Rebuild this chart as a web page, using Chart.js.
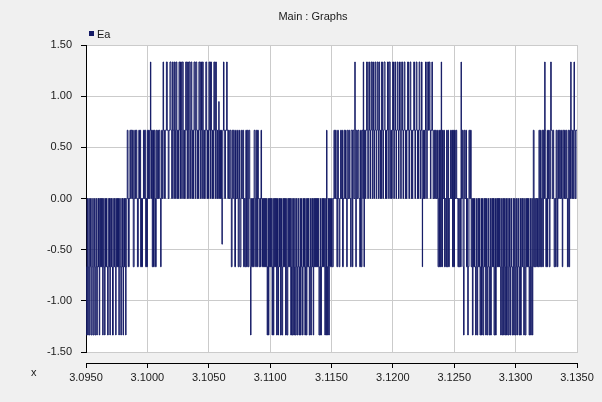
<!DOCTYPE html>
<html>
<head>
<meta charset="utf-8">
<script src="https://cdn.jsdelivr.net/npm/chart.js@4.4.1/dist/chart.umd.min.js"></script>
<style>
  html, body { margin: 0; padding: 0; background: #f0f0f0; }
  #wrap { width: 602px; height: 402px; }
</style>
</head>
<body>
<div id="wrap"><canvas id="graph" width="602" height="402"></canvas></div>
<script>
const titleText = 'Main : Graphs';
const seriesName = 'Ea';
const xAxisName = 'x';

const xMin = 3.095, xMax = 3.135, xStep = 0.005;
const yMin = -1.5, yMax = 1.5, yStep = 0.5;

// switching levels are multiples of 0.667 (0, ±0.67, ±1.33)
const levelUnit = 0.667;

// [time in ms after 3.0950 s, level (in units of 0.667)]
const seg1 = [[0,-2],[0.05,-1],[0.09,0],[0.13,-2],[0.19,-1],[0.23,0],[0.27,-2],[0.33,-1],[0.37,0],[0.43,-2],[0.50,-1],[0.55,0],[0.59,-2],[0.66,-1],[0.70,0],[0.74,-2],[0.80,-1],[0.84,0],[0.88,-2],[0.92,-1],[0.98,0],[1.02,-1],[1.05,0],[1.08,-2],[1.12,-1],[1.16,0],[1.20,-1],[1.24,0],[1.28,-1],[1.32,0],[1.36,-2],[1.40,-1],[1.44,0],[1.48,-1],[1.52,-2],[1.55,-1],[1.59,0],[1.63,-1],[1.67,0],[1.71,-1],[1.76,-2],[1.81,-1],[1.85,0],[1.89,-1],[1.92,0],[1.95,-2],[1.98,-1],[2.02,0],[2.06,-1],[2.10,0],[2.13,-1],[2.16,-2],[2.22,-1],[2.26,0],[2.30,-1],[2.34,0],[2.38,-1],[2.42,-2],[2.45,-1],[2.49,0],[2.53,-1],[2.57,0],[2.61,-1],[2.65,0],[2.68,-2],[2.71,-1],[2.75,0],[2.79,-1],[2.84,-2],[2.88,-1],[2.92,0],[2.96,-1],[2.99,0],[3.02,-2],[3.06,-1],[3.10,0],[3.14,-1],[3.18,0],[3.23,-2],[3.26,-1],[3.32,0]];
const seg2 = [[3.36,1],[3.42,0],[3.46,-1],[3.52,0],[3.58,1],[3.64,0],[3.68,1],[3.76,0],[3.80,1],[3.85,-1],[3.92,0],[3.97,1],[4.04,0],[4.08,1],[4.14,0],[4.19,-1],[4.26,0],[4.30,1],[4.36,0],[4.40,1],[4.45,-1],[4.52,0],[4.56,-1],[4.60,0],[4.68,1],[4.74,0],[4.78,1],[4.86,-1],[4.92,0],[4.96,-1],[5.00,1],[5.06,0],[5.10,1],[5.16,0],[5.22,1],[5.25,2],[5.28,1],[5.32,0],[5.35,1],[5.40,-1],[5.45,1],[5.50,-1],[5.56,1],[5.62,0],[5.66,-1],[5.72,1],[5.78,0],[5.84,1],[5.90,0],[5.95,1],[6.02,0],[6.08,-1],[6.12,0],[6.16,1]];
const seg3 = [[6.22,0],[6.28,2],[6.32,1],[6.40,0],[6.46,1],[6.55,2],[6.62,1],[6.70,0],[6.76,1],[6.84,2],[6.92,1],[6.98,0],[7.04,2],[7.10,1],[7.16,0],[7.20,2],[7.26,1],[7.30,0],[7.34,2],[7.40,1],[7.44,0],[7.48,1],[7.52,0],[7.55,1],[7.58,2],[7.64,1],[7.67,0],[7.70,2],[7.77,1],[7.80,0],[7.84,2],[7.92,1],[7.96,0],[8.00,1],[8.04,0],[8.08,1],[8.12,2],[8.20,1],[8.24,0],[8.28,2],[8.34,1],[8.37,0],[8.40,2],[8.48,1],[8.52,0],[8.56,2],[8.62,1],[8.66,0],[8.70,1],[8.74,0],[8.77,1],[8.80,2],[8.87,1],[8.90,0],[8.94,2],[9.02,1],[9.06,0],[9.10,1],[9.14,0],[9.17,1],[9.20,2],[9.27,1],[9.30,0],[9.34,2],[9.41,1],[9.44,0],[9.48,2],[9.55,1],[9.59,0],[9.63,1],[9.67,0],[9.71,1],[9.76,2],[9.83,1],[9.86,0],[9.90,1],[9.94,0],[9.98,1],[10.02,2],[10.08,1],[10.11,0],[10.14,2],[10.22,1],[10.26,0],[10.30,1],[10.34,0],[10.38,1],[10.42,2],[10.48,1],[10.52,0],[10.56,2],[10.62,1],[10.66,0],[10.70,1],[10.74,0],[10.78,1],[10.82,1.42],[10.84,1],[10.88,0],[10.92,1],[10.96,0],[11.00,1],[11.04,0],[11.08,-0.67],[11.10,0],[11.14,1],[11.20,2],[11.24,1],[11.30,0],[11.36,1],[11.46,2],[11.50,1]];
const seg4 = [[11.56,0],[11.60,1],[11.66,0],[11.72,1],[11.80,0],[11.84,-1],[11.90,1],[11.96,0],[12.00,1],[12.08,0],[12.12,-1],[12.18,1],[12.24,0],[12.34,1],[12.40,-1],[12.46,0],[12.50,1],[12.54,-1],[12.62,0],[12.66,1],[12.72,0],[12.78,1],[12.84,-1],[12.90,0],[12.96,-1],[13.02,1],[13.08,-1],[13.14,1],[13.20,-1],[13.26,1],[13.34,0],[13.38,-1],[13.41,-2],[13.44,-1],[13.48,0],[13.56,-1],[13.62,0],[13.66,-1],[13.70,1],[13.78,0],[13.82,-1],[13.88,1],[13.94,-1],[13.98,1],[14.04,0],[14.10,-1],[14.16,0],[14.22,-1],[14.26,1],[14.30,0],[14.38,-1]];
const seg5 = [[14.44,0],[14.48,-1],[14.52,0],[14.56,-1],[14.60,0],[14.64,-1],[14.68,0],[14.72,-1],[14.76,-2],[14.80,-1],[14.83,0],[14.86,-2],[14.90,-1],[14.93,0],[14.97,-1],[15.01,0],[15.05,-1],[15.09,0],[15.13,-1],[15.16,-2],[15.20,-1],[15.23,0],[15.26,-2],[15.30,-1],[15.34,0],[15.38,-1],[15.42,0],[15.46,-1],[15.50,0],[15.53,-2],[15.57,-1],[15.60,0],[15.63,-2],[15.68,-1],[15.72,0],[15.76,-1],[15.80,0],[15.84,-2],[15.90,-1],[15.93,0],[15.96,-2],[16.02,-1],[16.06,0],[16.10,-1],[16.14,0],[16.18,-1],[16.22,0],[16.26,-2],[16.32,-1],[16.35,0],[16.38,-2],[16.44,-1],[16.48,0],[16.52,-1],[16.56,0],[16.60,-1],[16.64,0],[16.68,-2],[16.74,-1],[16.77,0],[16.80,-2],[16.86,-1],[16.89,0],[16.92,-2],[16.98,-1],[17.01,0],[17.04,-2],[17.10,-1],[17.14,0],[17.18,-2],[17.24,-1],[17.28,0],[17.32,-1],[17.35,-2],[17.40,-1],[17.44,0],[17.47,-2],[17.52,-1],[17.56,0],[17.60,-1],[17.63,-2],[17.68,-1],[17.72,0],[17.76,-1],[17.80,0],[17.83,-2],[17.88,-1],[17.92,0],[17.95,-2],[18.00,-1],[18.04,0],[18.08,-1],[18.12,0],[18.16,-1],[18.19,-2],[18.24,-1],[18.28,0],[18.31,-2],[18.36,-1],[18.40,0],[18.44,-1],[18.48,0],[18.51,-2],[18.55,-1],[18.59,0],[18.63,-1],[18.67,0],[18.71,-1],[18.75,0],[18.79,-1],[18.83,0],[18.87,-1],[18.91,0],[18.95,-1],[18.98,-2],[19.04,-1],[19.08,0],[19.11,-2],[19.18,-1],[19.22,0],[19.26,-1],[19.30,0],[19.34,-1],[19.38,0],[19.42,-1],[19.46,-2],[19.50,-1],[19.53,0],[19.56,-2],[19.60,1],[19.63,-1],[19.68,-2],[19.72,-1],[19.75,0],[19.78,-2],[19.82,-1],[19.84,0]];
const seg6 = [[19.92,-1],[20.00,0],[20.06,-1],[20.14,0],[20.20,1],[20.26,0],[20.32,1],[20.38,0],[20.44,-1],[20.50,1],[20.56,0],[20.62,-1],[20.68,0],[20.74,1],[20.80,0],[20.86,1],[20.90,-1],[20.96,0],[21.02,1],[21.08,0],[21.14,1],[21.18,0],[21.24,-1],[21.28,1],[21.36,0],[21.42,1],[21.48,0],[21.56,-1],[21.60,1],[21.70,-1],[21.74,1],[21.82,0],[21.90,2],[21.93,1],[21.98,-1],[22.02,1],[22.10,0],[22.16,1],[22.24,0],[22.30,-1],[22.36,1],[22.42,-1],[22.48,1],[22.56,0],[22.59,2],[22.62,1],[22.65,-1],[22.68,1],[22.76,0],[22.80,1]];
const seg7 = [[22.86,2],[22.92,1],[22.96,0],[23.00,1],[23.04,2],[23.10,1],[23.14,0],[23.18,1],[23.22,2],[23.28,1],[23.32,0],[23.36,2],[23.42,1],[23.46,0],[23.50,1],[23.54,2],[23.60,1],[23.64,0],[23.68,1],[23.72,2],[23.78,1],[23.82,0],[23.86,2],[23.92,1],[23.96,0],[24.00,1],[24.04,0],[24.08,2],[24.15,1],[24.19,0],[24.23,1],[24.28,2],[24.36,1],[24.40,0],[24.44,1],[24.48,0],[24.52,1],[24.56,2],[24.63,1],[24.66,0],[24.70,2],[24.78,1],[24.82,0],[24.86,1],[24.90,0],[24.94,1],[24.98,2],[25.05,1],[25.08,0],[25.12,1],[25.16,2],[25.22,1],[25.26,0],[25.30,1],[25.36,2],[25.42,1],[25.46,0],[25.50,1],[25.54,2],[25.60,1],[25.64,0],[25.68,1],[25.72,2],[25.79,1],[25.83,0],[25.87,1],[25.92,2],[25.98,1],[26.02,0],[26.06,1],[26.10,0],[26.14,1],[26.20,2],[26.27,1],[26.31,0],[26.35,1],[26.40,2],[26.46,1],[26.50,0],[26.54,1],[26.58,0],[26.62,1],[26.70,2],[26.76,1],[26.80,0],[26.84,1],[26.90,2],[26.96,1],[27.00,0],[27.04,1],[27.08,0],[27.11,1],[27.14,2],[27.20,1],[27.24,0],[27.28,1],[27.34,2],[27.37,1],[27.39,0],[27.40,-1],[27.42,0],[27.48,1],[27.52,0],[27.56,1],[27.60,0],[27.63,1],[27.66,2],[27.72,1],[27.76,0],[27.80,1],[27.84,2],[27.90,1],[27.96,2],[28.02,1],[28.06,0],[28.10,1],[28.18,2],[28.22,1],[28.28,0]];
const seg8 = [[28.34,1],[28.40,0],[28.46,1],[28.52,0],[28.58,1],[28.64,0],[28.68,-1],[28.74,1],[28.80,-1],[28.86,1],[28.90,-1],[28.94,2],[28.97,1],[29.00,-1],[29.04,1],[29.10,0],[29.16,1],[29.20,-1],[29.26,0],[29.32,-1],[29.38,1],[29.42,-1],[29.48,1],[29.54,-1],[29.60,0],[29.70,1],[29.76,0],[29.82,1],[29.86,-1],[29.92,1],[29.96,-1],[30.02,1],[30.08,0],[30.14,1],[30.20,0],[30.30,-1],[30.36,0],[30.40,-1],[30.46,0],[30.52,-1],[30.56,2],[30.58,0],[30.66,1],[30.72,-1],[30.76,-2],[30.80,1],[30.86,0],[30.94,1],[31.00,-1],[31.06,0],[31.10,-2],[31.14,-1],[31.20,1],[31.26,0],[31.32,1],[31.38,-1]];
const seg9 = [[31.44,0],[31.48,-2],[31.53,-1],[31.57,0],[31.61,-1],[31.65,0],[31.69,-1],[31.74,-2],[31.79,-1],[31.82,0],[31.86,-2],[31.91,-1],[31.95,0],[31.99,-1],[32.03,0],[32.06,-1],[32.10,-2],[32.15,-1],[32.18,0],[32.22,-2],[32.27,-1],[32.30,0],[32.34,-2],[32.40,-1],[32.44,0],[32.48,-1],[32.52,0],[32.56,-2],[32.60,-1],[32.63,0],[32.66,-2],[32.72,-1],[32.76,0],[32.80,-1],[32.84,-2],[32.89,-1],[32.92,0],[32.96,-2],[33.02,-1],[33.06,0],[33.10,-1],[33.14,0],[33.18,-1],[33.21,0],[33.24,-2],[33.30,-1],[33.33,0],[33.36,-2],[33.42,-1],[33.46,0],[33.50,-1],[33.54,0],[33.58,-1],[33.62,0],[33.66,-1],[33.70,0],[33.74,-1],[33.78,-2],[33.83,-1],[33.86,0],[33.90,-2],[33.95,-1],[33.98,0],[34.02,-2],[34.07,-1],[34.10,0],[34.14,-2],[34.19,-1],[34.22,0],[34.26,-2],[34.32,-1],[34.36,0],[34.40,-2],[34.46,-1],[34.50,0],[34.54,-2],[34.59,-1],[34.63,0],[34.67,-1],[34.72,-2],[34.77,-1],[34.80,0],[34.84,-2],[34.89,-1],[34.92,0],[34.96,-2],[35.02,-1],[35.06,0],[35.10,-2],[35.15,-1],[35.19,0],[35.23,-1],[35.28,-2],[35.33,-1],[35.36,0],[35.40,-2],[35.46,-1],[35.50,0],[35.54,-1],[35.58,0],[35.62,-1],[35.66,-2],[35.71,-1],[35.74,0],[35.78,-2],[35.84,-1],[35.88,0],[35.92,-1],[35.96,0],[36.00,-1],[36.04,0],[36.07,-1],[36.10,-2],[36.15,-1],[36.18,0],[36.22,-2],[36.28,-1],[36.32,0],[36.36,-2],[36.40,-1]];
const seg10 = [[36.44,1],[36.50,-1],[36.56,0],[36.60,-1],[36.66,0],[36.72,-1],[36.78,0],[36.84,-1],[36.90,1],[36.96,-1],[37.02,1],[37.06,0],[37.10,-1],[37.16,1],[37.22,-1],[37.26,1],[37.34,0],[37.37,2],[37.40,1],[37.46,-1],[37.52,0],[37.56,-1],[37.60,1],[37.66,0],[37.70,1],[37.74,-1],[37.80,0],[37.83,1],[37.86,2],[37.90,1],[37.98,0],[38.04,1],[38.10,0],[38.14,-1],[38.20,0],[38.26,-1],[38.30,1],[38.36,0],[38.40,-1],[38.44,1],[38.50,0],[38.56,1],[38.62,0],[38.68,1],[38.74,0],[38.80,-1],[38.84,1],[38.92,0],[38.98,1],[39.04,0],[39.10,1],[39.16,0],[39.22,-1],[39.28,1],[39.34,-1],[39.40,1],[39.46,0],[39.49,2],[39.52,1],[39.58,0],[39.64,1],[39.70,0],[39.76,2],[39.79,1],[39.86,0],[39.92,1],[40.00,1]];

const segments = [seg1, seg2, seg3, seg4, seg5, seg6, seg7, seg8, seg9, seg10];

const lineColor = '#151b66';
const gridColor = '#cbcbcb';
const textColor = '#1a1a1a';
const labelFont = { family: '"Liberation Sans", Arial, sans-serif', size: 11 };

const points = segments.flat().map(([ms, lvl]) => ({ x: xMin + ms / 1000, y: lvl * levelUnit }));

const frame = {
    id: 'frame',
    beforeDraw(chart) {
        const { ctx, chartArea: a } = chart;
        ctx.save();
        ctx.fillStyle = '#f0f0f0';
        ctx.fillRect(0, 0, chart.width, chart.height);
        ctx.fillStyle = '#ffffff';
        ctx.fillRect(a.left, a.top, a.right - a.left, a.bottom - a.top);
        ctx.restore();
    },
    afterDraw(chart) {
        const { ctx, chartArea: a } = chart;
        ctx.save();
        ctx.font = '11px "Liberation Sans", Arial, sans-serif';
        ctx.fillStyle = textColor;
        ctx.textBaseline = 'middle';
        ctx.textAlign = 'center';
        ctx.fillText(titleText, 313, 17);
        ctx.textAlign = 'left';
        ctx.fillText(seriesName, a.left + 11, 35);
        ctx.fillText(xAxisName, 31, 373);
        ctx.fillStyle = lineColor;
        ctx.fillRect(a.left + 3, 31, 5, 5);
        ctx.restore();
    }
};

new Chart(document.getElementById('graph'), {
    type: 'line',
    data: {
        datasets: [{
            label: seriesName,
            data: points,
            borderColor: lineColor,
            borderWidth: 1,
            pointRadius: 0,
            stepped: true,
            fill: false
        }]
    },
    options: {
        responsive: false,
        animation: false,
        devicePixelRatio: 1,
        parsing: false,
        layout: { padding: { top: 45, right: 25, bottom: 0, left: 0 } },
        plugins: { legend: { display: false }, title: { display: false }, tooltip: { enabled: false } },
        scales: {
            x: {
                type: 'linear', position: 'bottom', weight: 0, min: xMin, max: xMax,
                ticks: { display: false, stepSize: xStep },
                grid: { color: gridColor, drawTicks: false },
                border: { color: gridColor },
                afterFit: s => { s.height = 11; }
            },
            x2: {
                type: 'linear', position: 'bottom', weight: 1, min: xMin, max: xMax,
                ticks: { stepSize: xStep, autoSkip: false, maxRotation: 0, padding: 3, color: textColor, font: labelFont, callback: v => v.toFixed(4) },
                grid: { drawOnChartArea: false, tickLength: 5, tickColor: '#000' },
                border: { color: '#000' },
                afterFit: s => { s.height = 39; }
            },
            y: {
                min: yMin, max: yMax,
                ticks: { stepSize: yStep, padding: 9, color: textColor, font: labelFont, callback: v => v.toFixed(2) },
                grid: { color: gridColor, tickLength: 5, tickColor: '#000' },
                border: { color: '#000' },
                afterFit: s => { s.width = 86; }
            }
        }
    },
    plugins: [frame]
});
</script>
</body>
</html>
